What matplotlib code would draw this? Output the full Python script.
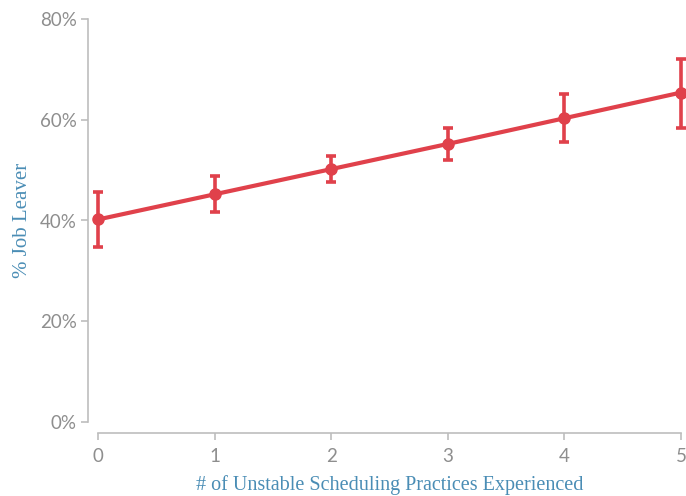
import matplotlib

matplotlib.use("Agg")

import matplotlib.pyplot as plt

# number of unstable scheduling practices vs share of job leavers (%)
practices = [0, 1, 2, 3, 4, 5]
leaver_pct = [40.2, 45.2, 50.2, 55.2, 60.3, 65.4]
ci_low = [34.7, 41.6, 47.6, 52.0, 55.6, 58.4]
ci_high = [45.6, 48.9, 52.8, 58.4, 65.1, 72.1]
y_ticks = [0, 20, 40, 60, 80]
y_tick_labels = ["0%", "20%", "40%", "60%", "80%"]

RED = "#e0414b"
GRAY = "#8e8e8e"
SPINE = "#bdbdbd"
BLUE = "#4a8db5"

fig = plt.figure(figsize=(6.86, 4.96), dpi=100)
ax = fig.add_axes([98 / 686, 74 / 496, 583 / 686, 403 / 496])

err = [
    [v - lo for v, lo in zip(leaver_pct, ci_low)],
    [hi - v for v, hi in zip(leaver_pct, ci_high)],
]
line, caps, bars = ax.errorbar(
    practices,
    leaver_pct,
    yerr=err,
    color=RED,
    lw=3,
    marker="o",
    markersize=8,
    elinewidth=2.6,
    capsize=3.8,
    capthick=2.6,
    clip_on=False,
    zorder=3,
)
for artist in [line, *caps, *bars]:
    artist.set_clip_on(False)

ax.set_xlim(0, 5)
ax.set_ylim(0, 80)
ax.set_xticks(practices)
ax.set_yticks(y_ticks)
ax.set_yticklabels(y_tick_labels)

for side in ["top", "right"]:
    ax.spines[side].set_visible(False)
ax.spines["left"].set_position(("outward", 7.2))
ax.spines["bottom"].set_position(("outward", 8.0))
for side in ["left", "bottom"]:
    ax.spines[side].set_color(SPINE)
    ax.spines[side].set_linewidth(1.2)

ax.tick_params(axis="both", color=SPINE, width=1.2, length=5)
ax.tick_params(axis="y", labelsize=13.5, pad=3, labelcolor=GRAY)
ax.tick_params(axis="x", labelsize=13.5, pad=6, labelcolor=GRAY)
for lbl in ax.get_xticklabels() + ax.get_yticklabels():
    lbl.set_fontfamily(["Lato", "DejaVu Sans"])
    lbl.set_fontweight("normal")

ax.set_xlabel(
    "# of Unstable Scheduling Practices Experienced",
    color=BLUE,
    fontsize=14.5,
    family=["Liberation Serif", "DejaVu Serif"],
    labelpad=7,
)
ax.set_ylabel(
    "% Job Leaver",
    color=BLUE,
    fontsize=15,
    family=["Liberation Serif", "DejaVu Serif"],
    labelpad=6,
)

fig.savefig("out.png", dpi=100)
